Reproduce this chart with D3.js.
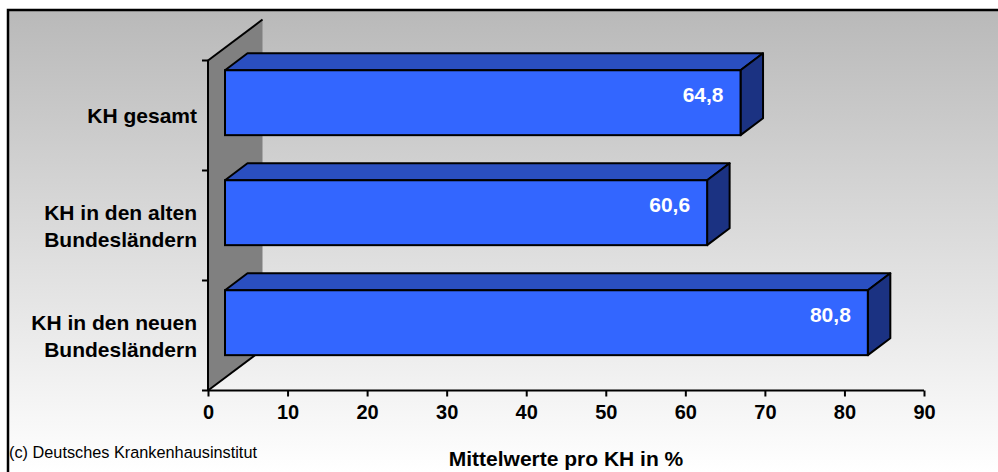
<!DOCTYPE html>
<html>
<head>
<meta charset="utf-8">
<script src="https://cdn.jsdelivr.net/npm/d3@7/dist/d3.min.js"></script>
<style>
  html, body { margin: 0; padding: 0; background: #ffffff; }
  svg { display: block; }
  text { font-family: Arial, "Liberation Sans", sans-serif; }
</style>
</head>
<body>
<svg id="chart" width="998" height="472"></svg>
<script>
// Mean values per hospital (KH) in percent
const categories = [
  ["KH gesamt"],
  ["KH in den alten", "Bundesländern"],
  ["KH in den neuen", "Bundesländern"]
];
const values = [64.8, 60.6, 80.8];
const valueLabels = ["64,8", "60,6", "80,8"];
const xTicks = [0, 10, 20, 30, 40, 50, 60, 70, 80, 90];
const axisTitle = "Mittelwerte pro KH in %";
const sourceNote = "(c) Deutsches Krankenhausinstitut";

const W = 998, H = 472;
const svg = d3.select("#chart");

// plot area (front plane of the 3D box)
const plot = { left: 208, right: 924, top: 60.5, bottom: 390.5 };
// depth of the 3D box and placement of the bars inside it
const depth = { dx: 54.5, dy: -41 };
const barFront = 0.312, barDepth = 0.413;

const x = d3.scaleLinear().domain([0, 90]).range([plot.left, plot.right]);
const y = d3.scaleBand()
  .domain(d3.range(categories.length))
  .range([plot.top, plot.bottom])
  .paddingInner(0.41)
  .paddingOuter(0.205);

// background with gradient and frame
const defs = svg.append("defs");
const grad = defs.append("linearGradient")
  .attr("id", "bg").attr("x1", 0).attr("y1", 0).attr("x2", 0).attr("y2", 1);
grad.append("stop").attr("offset", "0%").attr("stop-color", "#b9b9b9");
grad.append("stop").attr("offset", "100%").attr("stop-color", "#ffffff");

svg.append("rect").attr("x", 8).attr("y", 10).attr("width", W - 8).attr("height", H - 10)
  .attr("fill", "url(#bg)");
svg.append("path")
  .attr("d", `M8,${H} L8,10 L${W},10`)
  .attr("fill", "none").attr("stroke", "#000").attr("stroke-width", 2.5);

// side wall
const x0 = x(0);
svg.append("path")
  .attr("d", `M${x0},${plot.top} L${x0 + depth.dx},${plot.top + depth.dy} L${x0 + depth.dx},${plot.bottom + depth.dy} L${x0},${plot.bottom} Z`)
  .attr("fill", "#808080");
svg.append("path")
  .attr("d", `M${x0},${plot.top} L${x0 + depth.dx},${plot.top + depth.dy}`)
  .attr("stroke", "#000").attr("stroke-width", 2).attr("fill", "none");
svg.append("path")
  .attr("d", `M${x0},${plot.bottom} L${x0 + depth.dx},${plot.bottom + depth.dy}`)
  .attr("stroke", "#000").attr("stroke-width", 2).attr("fill", "none");

// category axis (left)
const catTicks = d3.range(categories.length + 1).map(i => plot.top + i * y.step());
svg.append("line").attr("x1", x0).attr("x2", x0).attr("y1", plot.top).attr("y2", plot.bottom)
  .attr("stroke", "#000").attr("stroke-width", 2);
svg.selectAll(".ctick").data(catTicks).join("line")
  .attr("x1", x0 - 6).attr("x2", x0).attr("y1", d => d).attr("y2", d => d)
  .attr("stroke", "#000").attr("stroke-width", 2);

// value axis (bottom)
const xAxis = svg.append("g").attr("transform", `translate(0,${plot.bottom})`)
  .call(d3.axisBottom(x).tickValues(xTicks).tickSize(6).tickPadding(8).tickFormat(d3.format("d")));
xAxis.select(".domain").attr("stroke", "#000").attr("stroke-width", 2)
  .attr("d", `M${x0},0H${plot.right}`);
xAxis.selectAll(".tick line").attr("stroke", "#000").attr("stroke-width", 2);
xAxis.selectAll(".tick text")
  .attr("fill", "#000").attr("font-size", 20).attr("font-weight", "bold")
  .attr("font-family", "Arial, 'Liberation Sans', sans-serif");

// 3D bars
const bdx = depth.dx * barDepth, bdy = depth.dy * barDepth;
const offX = depth.dx * barFront, offY = depth.dy * barFront;
const bars = svg.append("g");
values.forEach((v, i) => {
  const xl = x(0) + offX, xr = x(v) + offX;
  const yt = y(i) + offY, yb = y(i) + y.bandwidth() + offY;
  const g = bars.append("g");
  // top face
  g.append("path")
    .attr("d", `M${xl},${yt} L${xl + bdx},${yt + bdy} L${xr + bdx},${yt + bdy} L${xr},${yt} Z`)
    .attr("fill", "#2a4fc0").attr("stroke", "#000").attr("stroke-width", 2).attr("stroke-linejoin", "round");
  // right face
  g.append("path")
    .attr("d", `M${xr},${yt} L${xr + bdx},${yt + bdy} L${xr + bdx},${yb + bdy} L${xr},${yb} Z`)
    .attr("fill", "#1b3282").attr("stroke", "#000").attr("stroke-width", 2).attr("stroke-linejoin", "round");
  // front face
  g.append("rect")
    .attr("x", xl).attr("y", yt).attr("width", xr - xl).attr("height", yb - yt)
    .attr("fill", "#3366ff").attr("stroke", "#000").attr("stroke-width", 2);
  // value label
  g.append("text")
    .attr("x", xr - 17).attr("y", (yt + yb) / 2 + bdy / 2)
    .attr("dy", "0.36em")
    .attr("text-anchor", "end")
    .attr("fill", "#ffffff").attr("font-size", 21).attr("font-weight", "bold")
    .text(valueLabels[i]);
});

// category labels
categories.forEach((lines, i) => {
  const cy = y(i) + y.bandwidth() / 2;
  const lh = 27;
  const t = svg.append("text")
    .attr("text-anchor", "end").attr("font-size", 21).attr("font-weight", "bold").attr("fill", "#000");
  lines.forEach((ln, k) => {
    t.append("tspan")
      .attr("x", 197)
      .attr("y", cy + (k - (lines.length - 1) / 2) * lh)
      .attr("dy", "0.36em")
      .text(ln);
  });
});

// axis title
svg.append("text")
  .attr("x", (plot.left + plot.right) / 2).attr("y", 466)
  .attr("text-anchor", "middle").attr("font-size", 21).attr("font-weight", "bold").attr("fill", "#000")
  .text(axisTitle);

// source note
svg.append("text")
  .attr("x", 9).attr("y", 458)
  .attr("font-size", 16.3).attr("fill", "#000")
  .text(sourceNote);
</script>
</body>
</html>
